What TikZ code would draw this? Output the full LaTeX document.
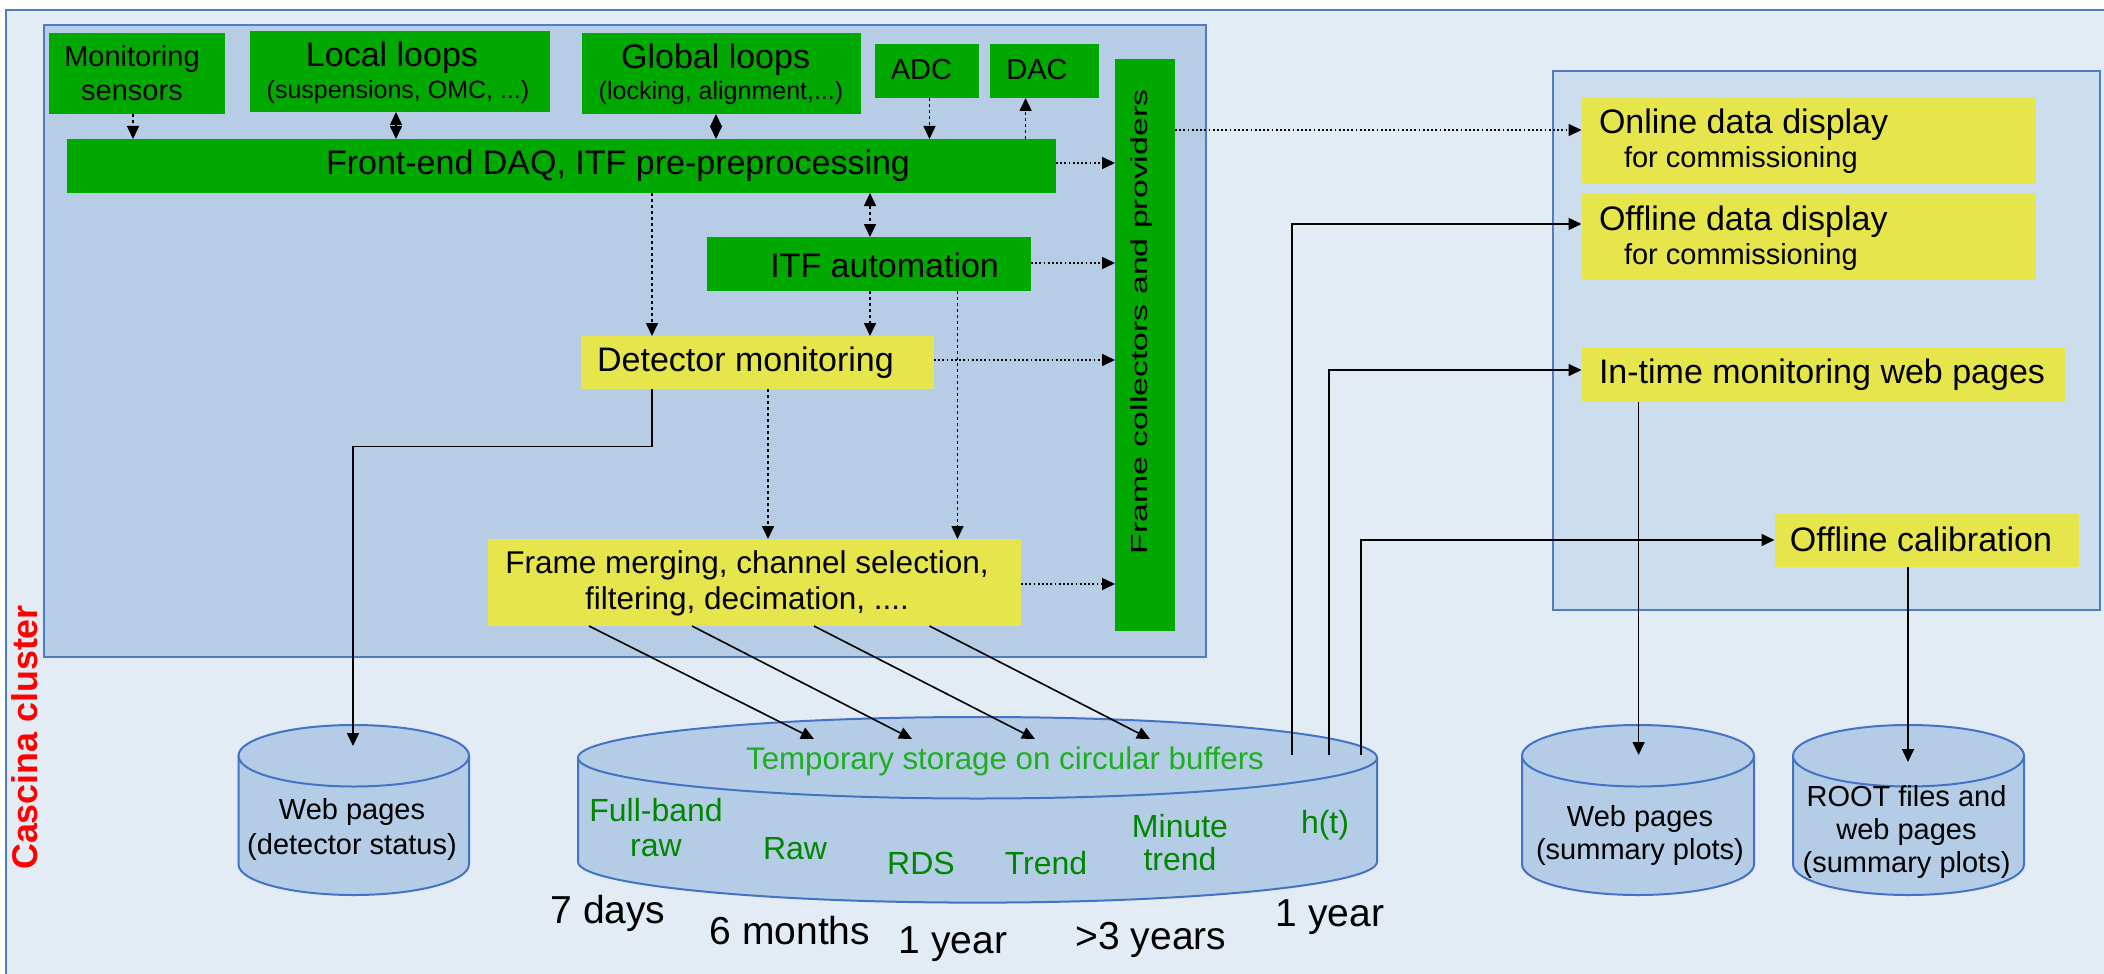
\documentclass[tikz,border=0pt]{standalone}
\usepackage{fontspec}
\setmainfont{Liberation Sans}
\usepackage{graphicx}
\usetikzlibrary{arrows.meta,calc}

\definecolor{clusterbg}{RGB}{227,235,245}
\definecolor{framecol}{RGB}{79,126,192}
\definecolor{daqbg}{RGB}{183,205,229}
\definecolor{offbg}{RGB}{204,221,238}
\definecolor{procgreen}{RGB}{0,168,0}
\definecolor{procyellow}{RGB}{230,230,76}
\definecolor{drumfill}{RGB}{180,204,230}
\definecolor{drumedge}{RGB}{68,114,196}
\definecolor{bufgreen}{RGB}{30,175,30}
\definecolor{streamgreen}{RGB}{0,135,0}
\definecolor{clusterred}{RGB}{255,0,0}

\tikzset{
  tipA/.tip={Triangle[length=6.5pt,width=6pt]},
  geom/.style n args={4}{at={({(#1+#3)/2},{(#2+#4)/2})},
    minimum width={(#3-#1)*0.5pt}, minimum height={(#4-#2)*0.5pt}},
  procbox/.style={fill=procgreen, inner sep=0pt, outer sep=0pt},
  viewbox/.style={fill=procyellow, inner sep=0pt, outer sep=0pt},
  lbl/.style={inner sep=0pt, outer sep=0pt, align=center},
  fs/.style 2 args={font=\fontsize{#1}{#2}\selectfont},
  conn/.style={draw=black, line width=0.8pt},
  dashline/.style={conn, dash pattern=on 1.7pt off 1.3pt},
  dotline/.style={conn, dash pattern=on 0.9pt off 1.2pt},
  solidline/.style={conn},
  region/.style={draw=framecol, line width=0.9pt},
  drumedgeline/.style={draw=drumedge, line width=1pt},
}

% storage drum: left x, right x, top ellipse y, bottom ellipse y, y radius
\newcommand\drum[5]{%
  \fill[drumfill] (#1,#3) -- (#1,#4)
    arc[start angle=180,end angle=0,x radius={(#2-#1)/2},y radius=#5] -- (#2,#3) -- cycle;
  \draw[drumedgeline] (#1,#3) -- (#1,#4)
    arc[start angle=180,end angle=0,x radius={(#2-#1)/2},y radius=#5] -- (#2,#3);
  \draw[drumedgeline, fill=drumfill] ({(#1+#2)/2},#3)
    ellipse[x radius={(#2-#1)/2},y radius=#5];
}

\begin{document}
\begin{tikzpicture}[x=0.5pt,y=-0.5pt]
\useasboundingbox (0,0) rectangle (2104,974);
\clip (0,0) rectangle (2104,974);

% cluster area and the two sub-areas
\draw[region, fill=clusterbg] (6,10) rectangle (2130,1000);
\draw[region, fill=daqbg] (44,25) rectangle (1206,657);
\draw[region, fill=offbg] (1553,71) rectangle (2100,610);

% processing boxes
\node[procbox, geom={49}{33}{225}{114}] (ms) {};
\node[procbox, geom={250}{31}{550}{112}] (ll) {};
\node[procbox, geom={582}{33}{861}{114}] (gl) {};
\node[procbox, geom={875}{44}{979}{98}] (adc) {};
\node[procbox, geom={990}{44}{1099}{98}] (dac) {};
\node[procbox, geom={1115}{59}{1175}{631}] (fcp) {};
\node[procbox, geom={67}{139}{1056}{193}] (fe) {};
\node[procbox, geom={707}{237}{1031}{291}] (ita) {};
\node[viewbox, geom={581}{336}{934}{389}] (dm) {};
\node[viewbox, geom={488}{539}{1021}{626}] (fm) {};
\node[viewbox, geom={1581.5}{97}{2036}{184}] (odd) {};
\node[viewbox, geom={1581.5}{193}{2036}{280}] (ofd) {};
\node[viewbox, geom={1581.5}{348}{2064.5}{402}] (itm) {};
\node[viewbox, geom={1774.5}{513.5}{2078.6}{567.4}] (ofc) {};

% box texts
\node[lbl, fs={14.5pt}{17pt}] (ms-t) at (132,73) {Monitoring\\sensors};
\node[lbl, fs={17pt}{20pt}] (ll-t) at (392,58) {Local loops};
\node[lbl, fs={12.5pt}{14pt}] (ll-s) at (398,92) {(suspensions, OMC, ...)};
\node[lbl, fs={17pt}{20pt}] (gl-t) at (715.6,60) {Global loops};
\node[lbl, fs={12.5pt}{14pt}] (gl-s) at (721,93) {(locking, alignment,...)};
\node[lbl, fs={14.5pt}{15pt}] (adc-t) at (921.5,70) {ADC};
\node[lbl, fs={14.5pt}{15pt}] (dac-t) at (1037,70) {DAC};
\node[lbl, fs={17pt}{20pt}] (fe-t) at (618,166) {Front-end DAQ, ITF pre-preprocessing};
\node[lbl, fs={17pt}{20pt}] (ita-t) at (884.6,265) {ITF automation};
\node[lbl, fs={17pt}{20pt}] (dm-t) at (745.5,363) {Detector monitoring};
\node[lbl, fs={15.75pt}{18pt}] (fm-t) at (747,583) {Frame merging, channel selection,\\filtering, decimation, ....};
\node[lbl, anchor=west, fs={17pt}{20pt}] (odd-t) at (1599,125) {Online data display};
\node[lbl, anchor=west, fs={14.5pt}{15pt}] (odd-s) at (1624,160) {for commissioning};
\node[lbl, anchor=west, fs={17pt}{20pt}] (ofd-t) at (1599,222) {Offline data display};
\node[lbl, anchor=west, fs={14.5pt}{15pt}] (ofd-s) at (1624,257) {for commissioning};
\node[lbl, anchor=west, fs={17pt}{20pt}] (itm-t) at (1599,375) {In-time monitoring web pages};
\node[lbl, fs={17pt}{20pt}] (ofc-t) at (1921,539) {Offline calibration};
\node[lbl, rotate=90] (fcp-t) at (1141,322)
  {\scalebox{1.46}[1]{\fontsize{11.6pt}{12pt}\selectfont Frame collectors and providers}};
\node[lbl, rotate=90, text=clusterred, font=\bfseries\fontsize{17.9pt}{18pt}\selectfont]
  (cc) at (25,737.5) {Cascina cluster};

% storage drums
\drum{238.5}{469}{755.75}{864.25}{30.75}
\drum{578}{1377}{757.75}{861.85}{40.75}
\drum{1522}{1754}{755.75}{864.25}{30.75}
\drum{1793}{2024}{755.75}{864.25}{30.75}

\node[lbl, fs={14.5pt}{17.5pt}] (wpd) at (352,829.5) {Web pages\\(detector status)};
\node[lbl, fs={14.5pt}{16.5pt}] (wps) at (1640,835.5) {Web pages\\(summary plots)};
\node[lbl, fs={14.5pt}{16.5pt}] (root) at (1906.5,832) {ROOT files and\\web pages\\(summary plots)};

\node[lbl, text=bufgreen, fs={15.65pt}{18pt}] (buf) at (1005,761) {Temporary storage on circular buffers};
\node[lbl, text=streamgreen, fs={16pt}{17.5pt}] (fbr) at (656,828) {Full-band\\raw};
\node[lbl, text=streamgreen, fs={16pt}{17.5pt}] (raw) at (795,849) {Raw};
\node[lbl, text=streamgreen, fs={16pt}{17.5pt}] (rds) at (921,863) {RDS};
\node[lbl, text=streamgreen, fs={16pt}{17.5pt}] (trend) at (1046,863) {Trend};
\node[lbl, text=streamgreen, fs={16pt}{16.5pt}] (mtrend) at (1180,843) {Minute\\trend};
\node[lbl, text=streamgreen, fs={16pt}{17.5pt}] (ht) at (1325,825) {h(t)};

% retention times
\node[lbl, fs={19.5pt}{22pt}] (t-fbr) at (608,913) {7 days};
\node[lbl, fs={19.5pt}{22pt}] (t-raw) at (790,931) {6 months};
\node[lbl, fs={19.5pt}{22pt}] (t-rds) at (953,944) {1 year};
\node[lbl, fs={19.5pt}{22pt}] (t-trend) at (1151,940) {>3 years};
\node[lbl, fs={19.5pt}{22pt}] (t-ht) at (1330,917) {1 year};

% guides for connector routing
\coordinate (v-ms) at (133,0);
\coordinate (v-ll) at (396,0);
\coordinate (v-gl) at (716,0);
\coordinate (v-adc) at (929.5,0);
\coordinate (v-dac) at (1025.6,0);
\coordinate (v-ita) at (870,0);
\coordinate (v-fedm) at (652,0);
\coordinate (v-dmfm) at (768,0);
\coordinate (v-itafm) at (957.5,0);
\coordinate (v-wpd) at (353,0);
\coordinate (v-wps) at (1638.6,0);
\coordinate (v-root) at (1908,0);
\coordinate (h-fe) at (0,163);
\coordinate (h-ita) at (0,263);
\coordinate (h-dm) at (0,360);
\coordinate (h-fm) at (0,584);
\coordinate (h-odd) at (0,130);
\coordinate (h-ofd) at (0,224);
\coordinate (h-itm) at (0,370);
\coordinate (h-ofc) at (0,540);
\coordinate (h-dmweb) at (0,446.5);
% connection points on the drums
\coordinate (wpd-in) at (353,746);
\coordinate (wps-in) at (1638.6,755);
\coordinate (root-in) at (1908,762);
\coordinate (big-in1) at (814,739);
\coordinate (big-in2) at (912,739);
\coordinate (big-in3) at (1035,739);
\coordinate (big-in4) at (1150,739);
\coordinate (big-out1) at (1292,755);
\coordinate (big-out2) at (1329,755);
\coordinate (big-out3) at (1361,755);

% front-end links
\draw[dashline, -tipA] (ms.south -| v-ms) -- (fe.north -| v-ms);
\draw[dashline, tipA-tipA] (ll.south -| v-ll) -- (fe.north -| v-ll);
\draw[dashline, tipA-tipA] (gl.south -| v-gl) -- (fe.north -| v-gl);
\draw[dashline, -tipA] (adc.south -| v-adc) -- (fe.north -| v-adc);
\draw[dashline, -tipA] (fe.north -| v-dac) -- (dac.south -| v-dac);
\draw[dashline, tipA-tipA] (fe.south -| v-ita) -- (ita.north -| v-ita);
\draw[dashline, -tipA] (fe.south -| v-fedm) -- (dm.north -| v-fedm);
\draw[dashline, -tipA] (ita.south -| v-ita) -- (dm.north -| v-ita);
\draw[dashline, -tipA] (dm.south -| v-dmfm) -- (fm.north -| v-dmfm);
\draw[dashline, -tipA] (ita.south -| v-itafm) -- (fm.north -| v-itafm);

% feeds of the frame collectors
\draw[dotline, -tipA] (fe.east |- h-fe) -- (fcp.west |- h-fe);
\draw[dotline, -tipA] (ita.east |- h-ita) -- (fcp.west |- h-ita);
\draw[dotline, -tipA] (dm.east |- h-dm) -- (fcp.west |- h-dm);
\draw[dotline, -tipA] (fm.east |- h-fm) -- (fcp.west |- h-fm);
\draw[dotline, -tipA] (fcp.east |- h-odd) -- (odd.west |- h-odd);

% detector status pages
\draw[solidline, -tipA] (dm.south -| v-fedm) -- (v-fedm |- h-dmweb)
  -- (v-wpd |- h-dmweb) -- (wpd-in);

% frame merging into the circular buffers
\draw[solidline, -tipA] ($(fm.south west)+(101,0)$) -- (big-in1);
\draw[solidline, -tipA] ($(fm.south west)+(204,0)$) -- (big-in2);
\draw[solidline, -tipA] ($(fm.south west)+(326,0)$) -- (big-in3);
\draw[solidline, -tipA] ($(fm.south west)+(441.5,0)$) -- (big-in4);

% buffers to offline processing
\draw[solidline, -tipA] (big-out1) -- (big-out1 |- h-ofd) -- (ofd.west |- h-ofd);
\draw[solidline, -tipA] (big-out2) -- (big-out2 |- h-itm) -- (itm.west |- h-itm);
\draw[solidline, -tipA] (big-out3) -- (big-out3 |- h-ofc) -- (ofc.west |- h-ofc);
\draw[solidline, -tipA] (itm.south -| v-wps) -- (wps-in);
\draw[solidline, -tipA] (ofc.south -| v-root) -- (root-in);
\end{tikzpicture}
\end{document}
